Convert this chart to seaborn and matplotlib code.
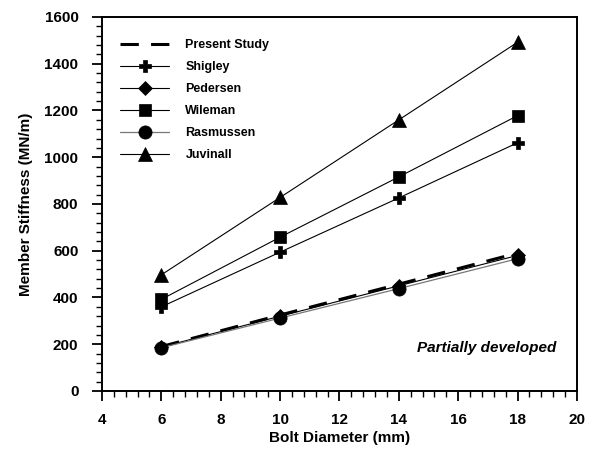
import matplotlib
matplotlib.use("Agg")
import matplotlib.pyplot as plt
import seaborn as sns
import pandas as pd
from matplotlib.ticker import MultipleLocator

sns.set_style("ticks")
plt.rcParams['font.family'] = ['Liberation Sans', 'DejaVu Sans']
plt.rcParams.update({"text.color": "black", "axes.labelcolor": "black",
                     "xtick.color": "black", "ytick.color": "black"})

diameter = [6, 10, 14, 18]
present_study = [190, 325, 457, 590]
shigley = [360, 594, 826, 1062]
pedersen = [188, 320, 450, 580]
wileman = [392, 658, 916, 1178]
rasmussen = [185, 312, 438, 566]
juvinall = [497, 828, 1160, 1492]

series_names = ["Present Study", "Shigley", "Pedersen", "Wileman", "Rasmussen", "Juvinall"]
series_vals = [present_study, shigley, pedersen, wileman, rasmussen, juvinall]

rows = []
for name, vals in zip(series_names, series_vals):
    for d, v in zip(diameter, vals):
        rows.append({"Bolt Diameter (mm)": d, "Member Stiffness (MN/m)": v, "Method": name})
df = pd.DataFrame(rows)

styles = {
    "Present Study": dict(color="black", lw=2.2, ls=(0, (6, 4)), marker=None, ms=0),
    "Shigley": dict(color="black", lw=0.8, ls="-", marker="P", ms=9),
    "Pedersen": dict(color="black", lw=0.8, ls="-", marker="D", ms=7),
    "Wileman": dict(color="black", lw=0.8, ls="-", marker="s", ms=9),
    "Rasmussen": dict(color="#777777", lw=0.9, ls="-", marker="o", ms=9.5),
    "Juvinall": dict(color="black", lw=0.8, ls="-", marker="^", ms=9.5),
}

fig = plt.figure(figsize=(5.93, 4.54), dpi=100)
ax = fig.add_axes([0.172, 0.1388, 0.801, 0.8238])

for name in series_names:
    st = styles[name]
    sub = df[df["Method"] == name]
    sns.lineplot(data=sub, x="Bolt Diameter (mm)", y="Member Stiffness (MN/m)", ax=ax,
                 color=st["color"], linewidth=st["lw"], linestyle=st["ls"],
                 marker=st["marker"], markersize=st["ms"],
                 markerfacecolor="black", markeredgecolor="black", markeredgewidth=0.5,
                 label=name, legend=False)

ax.set_xlim(4, 20)
ax.set_ylim(0, 1600)
ax.xaxis.set_major_locator(MultipleLocator(2))
ax.xaxis.set_minor_locator(MultipleLocator(0.4))
ax.yaxis.set_major_locator(MultipleLocator(200))
ax.yaxis.set_minor_locator(MultipleLocator(40))
ax.tick_params(which="major", direction="out", length=7, width=1.3, labelsize=11)
ax.tick_params(axis="x", which="major", pad=9)
ax.tick_params(axis="y", which="major", pad=10)
ax.tick_params(which="minor", direction="out", length=4, width=1.0)
for lab in ax.get_xticklabels() + ax.get_yticklabels():
    lab.set_fontweight("bold")
for sp in ax.spines.values():
    sp.set_visible(True)
    sp.set_linewidth(1.4)
    sp.set_color("black")

ax.set_xlabel("Bolt Diameter (mm)", fontsize=11, fontweight="bold", labelpad=3)
ax.set_ylabel("Member Stiffness (MN/m)", fontsize=11, fontweight="bold", labelpad=8)

leg = ax.legend(loc="upper left", bbox_to_anchor=(0.015, 0.97), frameon=False,
                prop={"weight": "bold", "size": 9}, handlelength=3.9,
                labelspacing=0.8, handletextpad=1.3)

ax.text(0.957, 0.115, "Partially developed", transform=ax.transAxes, ha="right", va="center",
        fontsize=11, fontweight="bold", fontstyle="italic")

fig.savefig("out.png", dpi=100)
